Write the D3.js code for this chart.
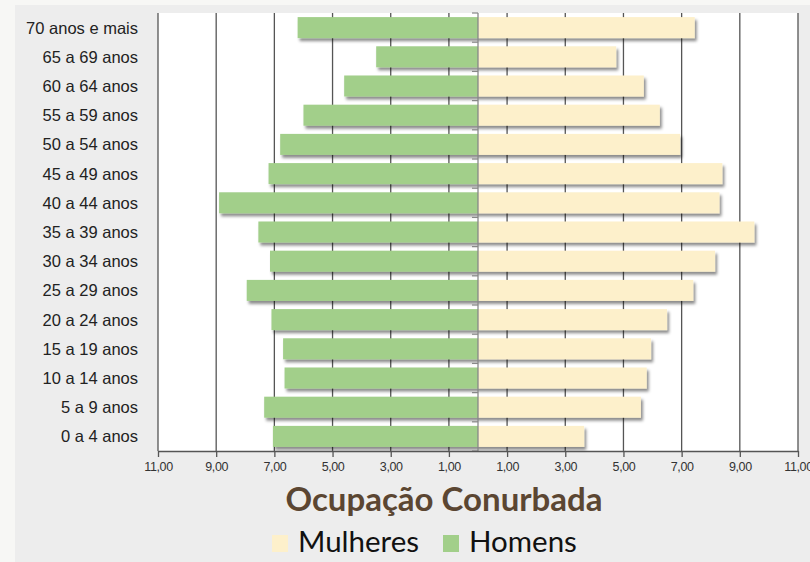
<!DOCTYPE html>
<html>
<head>
<meta charset="utf-8">
<script src="https://cdn.jsdelivr.net/npm/d3@7"></script>
<style>
  body { margin: 0; background: #f7f7f5; }
  svg { display: block; }
</style>
</head>
<body>
<div class="mainDiv"></div>
<script>
// age groups, top to bottom
const ageGroups = ["70 anos e mais", "65 a 69 anos", "60 a 64 anos", "55 a 59 anos", "50 a 54 anos",
  "45 a 49 anos", "40 a 44 anos", "35 a 39 anos", "30 a 34 anos", "25 a 29 anos",
  "20 a 24 anos", "15 a 19 anos", "10 a 14 anos", "5 a 9 anos", "0 a 4 anos"];
const homens   = [6.2, 3.5, 4.6, 6.0, 6.8, 7.2, 8.9, 7.55, 7.15, 7.95, 7.1, 6.7, 6.65, 7.35, 7.05];
const mulheres = [7.45, 4.75, 5.7, 6.25, 6.95, 8.4, 8.3, 9.5, 8.15, 7.4, 6.5, 5.95, 5.8, 5.6, 3.65];
const tickVals = [-11, -9, -7, -5, -3, -1, 1, 3, 5, 7, 9, 11];
const seriesNames = ["Mulheres", "Homens"];
const colors = ["#fdf0cb", "#a2cf8a"];

const W = 810, H = 562;
const svg = d3.select('.mainDiv').append('svg').attr('width', W).attr('height', H);

const defs = svg.append('defs');
const f = defs.append('filter').attr('id', 'shadow')
  .attr('x', '-5%').attr('y', '-30%').attr('width', '115%').attr('height', '180%');
f.append('feDropShadow').attr('dx', 2).attr('dy', 3).attr('stdDeviation', 1.6)
  .attr('flood-color', '#000').attr('flood-opacity', 0.45);

// backgrounds
svg.append('rect').attr('x', 15).attr('y', 5).attr('width', W - 15).attr('height', H - 5).attr('fill', '#ededed');

const x = d3.scaleLinear().domain([-11, 11]).range([158, 798]);
const y = d3.scaleBand().domain(ageGroups).range([13, 451]).paddingInner(0.28).paddingOuter(0.14);

// plot area
svg.append('rect').attr('x', x(-11)).attr('y', 13).attr('width', x(11) - x(-11)).attr('height', 451 - 13).attr('fill', '#fff');

// gridlines
svg.append('g').selectAll('line').data(tickVals).join('line')
  .attr('x1', d => x(d)).attr('x2', d => x(d))
  .attr('y1', 13).attr('y2', 451)
  .attr('stroke', '#555').attr('stroke-width', 1.3);

// bars
const bars = svg.append('g').attr('filter', 'url(#shadow)');
bars.selectAll('rect.h').data(ageGroups).join('rect').attr('class', 'h')
  .attr('x', (d, i) => x(-homens[i]))
  .attr('width', (d, i) => x(0) - x(-homens[i]))
  .attr('y', d => y(d)).attr('height', y.bandwidth())
  .attr('fill', colors[1]);
bars.selectAll('rect.m').data(ageGroups).join('rect').attr('class', 'm')
  .attr('x', x(0))
  .attr('width', (d, i) => x(mulheres[i]) - x(0))
  .attr('y', d => y(d)).attr('height', y.bandwidth())
  .attr('fill', colors[0]);

// center axis with category ticks
const bounds = d3.range(ageGroups.length + 1).map(i => 13 + i * (438 / ageGroups.length));
svg.append('line').attr('x1', x(0)).attr('x2', x(0)).attr('y1', 13).attr('y2', 451)
  .attr('stroke', '#888').attr('stroke-width', 1.3);
svg.append('g').selectAll('line').data(bounds).join('line')
  .attr('x1', x(0) - 6).attr('x2', x(0))
  .attr('y1', d => d).attr('y2', d => d)
  .attr('stroke', '#888').attr('stroke-width', 1.2);

// category labels
svg.append('g').selectAll('text').data(ageGroups).join('text')
  .attr('x', 138).attr('y', d => y(d) + y.bandwidth() / 2)
  .attr('dy', '0.36em').attr('text-anchor', 'end')
  .style('font-family', 'Liberation Sans, Arial, sans-serif').style('font-size', '16.5px')
  .attr('fill', '#222')
  .text(d => d);

// bottom axis
const fmt = d => d3.format('.2f')(Math.abs(d)).replace('.', ',');
const xAxis = svg.append('g').attr('transform', 'translate(0,451)')
  .call(d3.axisBottom(x).tickValues(tickVals).tickFormat(fmt).tickSize(6).tickSizeOuter(0));
xAxis.select('.domain').attr('stroke', '#555').attr('stroke-width', 1.3);
xAxis.selectAll('.tick line').attr('stroke', '#555').attr('stroke-width', 1.3);
xAxis.selectAll('.tick text').attr('y', 11)
  .style('font-family', 'Liberation Sans, Arial, sans-serif').style('font-size', '12.5px')
  .style('letter-spacing', '-0.4px').attr('fill', '#333');

// title
svg.append('text').attr('x', 444).attr('y', 511).attr('text-anchor', 'middle')
  .style('font-family', 'Lato, sans-serif').style('font-weight', 'bold').style('font-size', '33px')
  .attr('fill', '#5b4632').text('Ocupação Conurbada');

// legend
const legendX = [272, 443];
const leg = svg.append('g').selectAll('g').data(seriesNames).join('g')
  .attr('transform', (d, i) => `translate(${legendX[i]},535)`);
leg.append('rect').attr('width', 16).attr('height', 17).attr('fill', (d, i) => colors[i]);
leg.append('text').attr('x', 26).attr('y', 17)
  .style('font-family', 'Lato, sans-serif').style('font-size', '29.5px').attr('fill', '#111')
  .text(d => d);
</script>
</body>
</html>
